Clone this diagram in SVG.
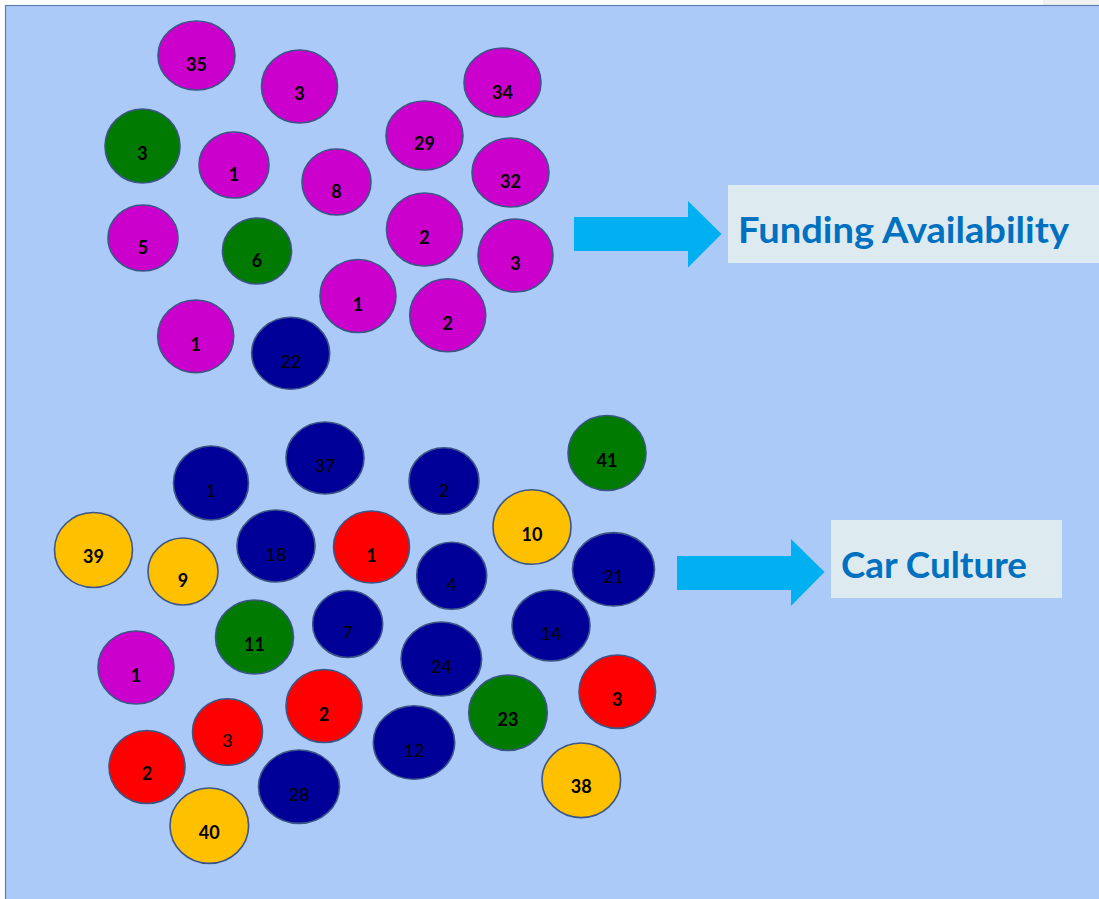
<svg xmlns="http://www.w3.org/2000/svg" width="1099" height="899" viewBox="0 0 1099 899">
<style>
.n ellipse{stroke:#3B5587;stroke-width:1.6}
.n text{font-family:Lato,"Liberation Sans",sans-serif;font-size:18px;text-anchor:middle;fill:#000}
.b text{font-weight:bold}
.r text{font-weight:normal}
.pk ellipse{fill:#CC00CC}
.gr ellipse{fill:#007A00}
.nv ellipse{fill:#000099}
.rd ellipse{fill:#FF0000}
.ye ellipse{fill:#FFC000}
.lbl{font-family:Lato,"Liberation Sans",sans-serif;font-weight:bold;fill:#0070C0}
.arr{fill:#00B0F0}
</style>
<rect x="0" y="0" width="1099" height="899" fill="#FFFFFF"/>
<rect x="1043" y="0" width="56" height="6" fill="#F2F2F2"/>
<rect x="5.5" y="5.5" width="1100" height="900" fill="#ABCAF7" stroke="#5F7FAE" stroke-width="1.2"/>

<g id="connectors">
<polygon class="arr" points="574,217 688,217 688,201 721.5,234 688,267.5 688,251 574,251"/>
<polygon class="arr" points="677,556 791,556 791,539 824.5,572 791,606 791,590 677,590"/>
</g>

<g id="label-funding">
<rect x="728" y="185" width="371" height="78" fill="#DDEBF1"/>
<text class="lbl" x="738" y="243" font-size="36" textLength="331" lengthAdjust="spacingAndGlyphs">Funding Availability</text>
</g>
<g id="label-car">
<rect x="831" y="520" width="231" height="78" fill="#DDEBF1"/>
<text class="lbl" x="841" y="578" font-size="36" textLength="186" lengthAdjust="spacingAndGlyphs">Car Culture</text>
</g>

<g id="t35" class="n pk b"><ellipse cx="196.5" cy="55.5" rx="38.5" ry="34.5"/><text x="196.5" y="70.5">35</text></g>
<g id="t3a" class="n pk b"><ellipse cx="299.5" cy="86.5" rx="38" ry="36.5"/><text x="299.5" y="99.5">3</text></g>
<g id="t34" class="n pk b"><ellipse cx="502.5" cy="82.5" rx="38.5" ry="34.5"/><text x="502.5" y="98.5">34</text></g>
<g id="t3g" class="n gr b"><ellipse cx="142.5" cy="146" rx="37.5" ry="37"/><text x="142.5" y="159.5">3</text></g>
<g id="t1a" class="n pk b"><ellipse cx="234" cy="165" rx="35" ry="33"/><text x="234" y="180.5">1</text></g>
<g id="t8" class="n pk b"><ellipse cx="336.5" cy="182" rx="34.5" ry="33"/><text x="336.5" y="197.5">8</text></g>
<g id="t29" class="n pk b"><ellipse cx="424.5" cy="135.5" rx="38.5" ry="34.5"/><text x="424.5" y="149.5">29</text></g>
<g id="t32" class="n pk b"><ellipse cx="510.5" cy="172.5" rx="38.5" ry="34.5"/><text x="510.5" y="187.5">32</text></g>
<g id="t5" class="n pk b"><ellipse cx="143" cy="238" rx="35" ry="33"/><text x="143" y="254">5</text></g>
<g id="t6g" class="n gr b"><ellipse cx="257" cy="251" rx="34.5" ry="33"/><text x="257" y="267">6</text></g>
<g id="t2a" class="n pk b"><ellipse cx="424.5" cy="229.5" rx="38" ry="36.5"/><text x="424.5" y="243.5">2</text></g>
<g id="t3b" class="n pk b"><ellipse cx="515.5" cy="255.5" rx="37.5" ry="36.5"/><text x="515.5" y="269.5">3</text></g>
<g id="t1b" class="n pk b"><ellipse cx="358" cy="296" rx="38" ry="36.5"/><text x="358" y="310.5">1</text></g>
<g id="t2b" class="n pk b"><ellipse cx="447.7" cy="315.3" rx="38" ry="36.5"/><text x="447.7" y="329.5">2</text></g>
<g id="t1c" class="n pk b"><ellipse cx="195.7" cy="336.3" rx="38" ry="36.3"/><text x="195.7" y="350.5">1</text></g>
<g id="t22" class="n nv r"><ellipse cx="290.7" cy="353.3" rx="39" ry="36"/><text x="290.7" y="367.8">22</text></g>

<g id="b1n" class="n nv r"><ellipse cx="211" cy="483" rx="37.5" ry="37"/><text x="211" y="496.5">1</text></g>
<g id="b37" class="n nv r"><ellipse cx="325" cy="458" rx="39" ry="36"/><text x="325" y="471.5">37</text></g>
<g id="b39" class="n ye b"><ellipse cx="93.5" cy="550" rx="39" ry="37.5"/><text x="93.5" y="563">39</text></g>
<g id="b9" class="n ye b"><ellipse cx="183" cy="571.5" rx="35" ry="33.5"/><text x="183" y="586.8">9</text></g>
<g id="b18" class="n nv r"><ellipse cx="276" cy="546" rx="39" ry="36"/><text x="276" y="560.8">18</text></g>
<g id="b1r" class="n rd b"><ellipse cx="371.5" cy="547" rx="38" ry="36"/><text x="371.5" y="561.5">1</text></g>
<g id="b7" class="n nv r"><ellipse cx="347.7" cy="624" rx="35" ry="33.5"/><text x="347.7" y="639">7</text></g>
<g id="b11" class="n gr b"><ellipse cx="254.5" cy="637" rx="39" ry="37"/><text x="254.5" y="651">11</text></g>
<g id="b2n" class="n nv r"><ellipse cx="444" cy="481" rx="35" ry="33.3"/><text x="444" y="496.5">2</text></g>
<g id="b41" class="n gr b"><ellipse cx="607" cy="453" rx="39" ry="37.5"/><text x="607" y="466.5">41</text></g>
<g id="b10" class="n ye b"><ellipse cx="532" cy="527" rx="39" ry="37.3"/><text x="532" y="540.5">10</text></g>
<g id="b4" class="n nv r"><ellipse cx="451.7" cy="575.8" rx="35" ry="33.5"/><text x="451.7" y="590.8">4</text></g>
<g id="b21" class="n nv r"><ellipse cx="613.5" cy="569.3" rx="41" ry="36.7"/><text x="613.5" y="583.2">21</text></g>
<g id="b14" class="n nv r"><ellipse cx="551" cy="625.5" rx="39" ry="35.5"/><text x="551" y="639.8">14</text></g>
<g id="b24" class="n nv r"><ellipse cx="441.3" cy="659" rx="40.3" ry="37"/><text x="441.3" y="673.2">24</text></g>
<g id="b1p" class="n pk b"><ellipse cx="136" cy="667.5" rx="38" ry="36.5"/><text x="136" y="681.5">1</text></g>
<g id="b3r" class="n rd r"><ellipse cx="227.5" cy="732" rx="35" ry="33.3"/><text x="227.5" y="746.5">3</text></g>
<g id="b2r" class="n rd b"><ellipse cx="324" cy="706" rx="38" ry="36.5"/><text x="324" y="720.5">2</text></g>
<g id="b2rl" class="n rd b"><ellipse cx="147" cy="767" rx="38" ry="36.5"/><text x="147" y="779.8">2</text></g>
<g id="b12" class="n nv r"><ellipse cx="414" cy="742.5" rx="40.7" ry="36.8"/><text x="414" y="756.5">12</text></g>
<g id="b28" class="n nv r"><ellipse cx="299" cy="786.7" rx="40.5" ry="36.7"/><text x="299" y="800.5">28</text></g>
<g id="b40" class="n ye b"><ellipse cx="209.3" cy="825.7" rx="39.3" ry="37.7"/><text x="209.3" y="838.5">40</text></g>
<g id="b23" class="n gr b"><ellipse cx="508" cy="712.7" rx="39.3" ry="37.7"/><text x="508" y="725.5">23</text></g>
<g id="b3r3" class="n rd b"><ellipse cx="617.3" cy="691.7" rx="38.3" ry="36.7"/><text x="617.3" y="705.5">3</text></g>
<g id="b38" class="n ye b"><ellipse cx="581.3" cy="780.3" rx="39.3" ry="37.3"/><text x="581.3" y="793.2">38</text></g>
</svg>
